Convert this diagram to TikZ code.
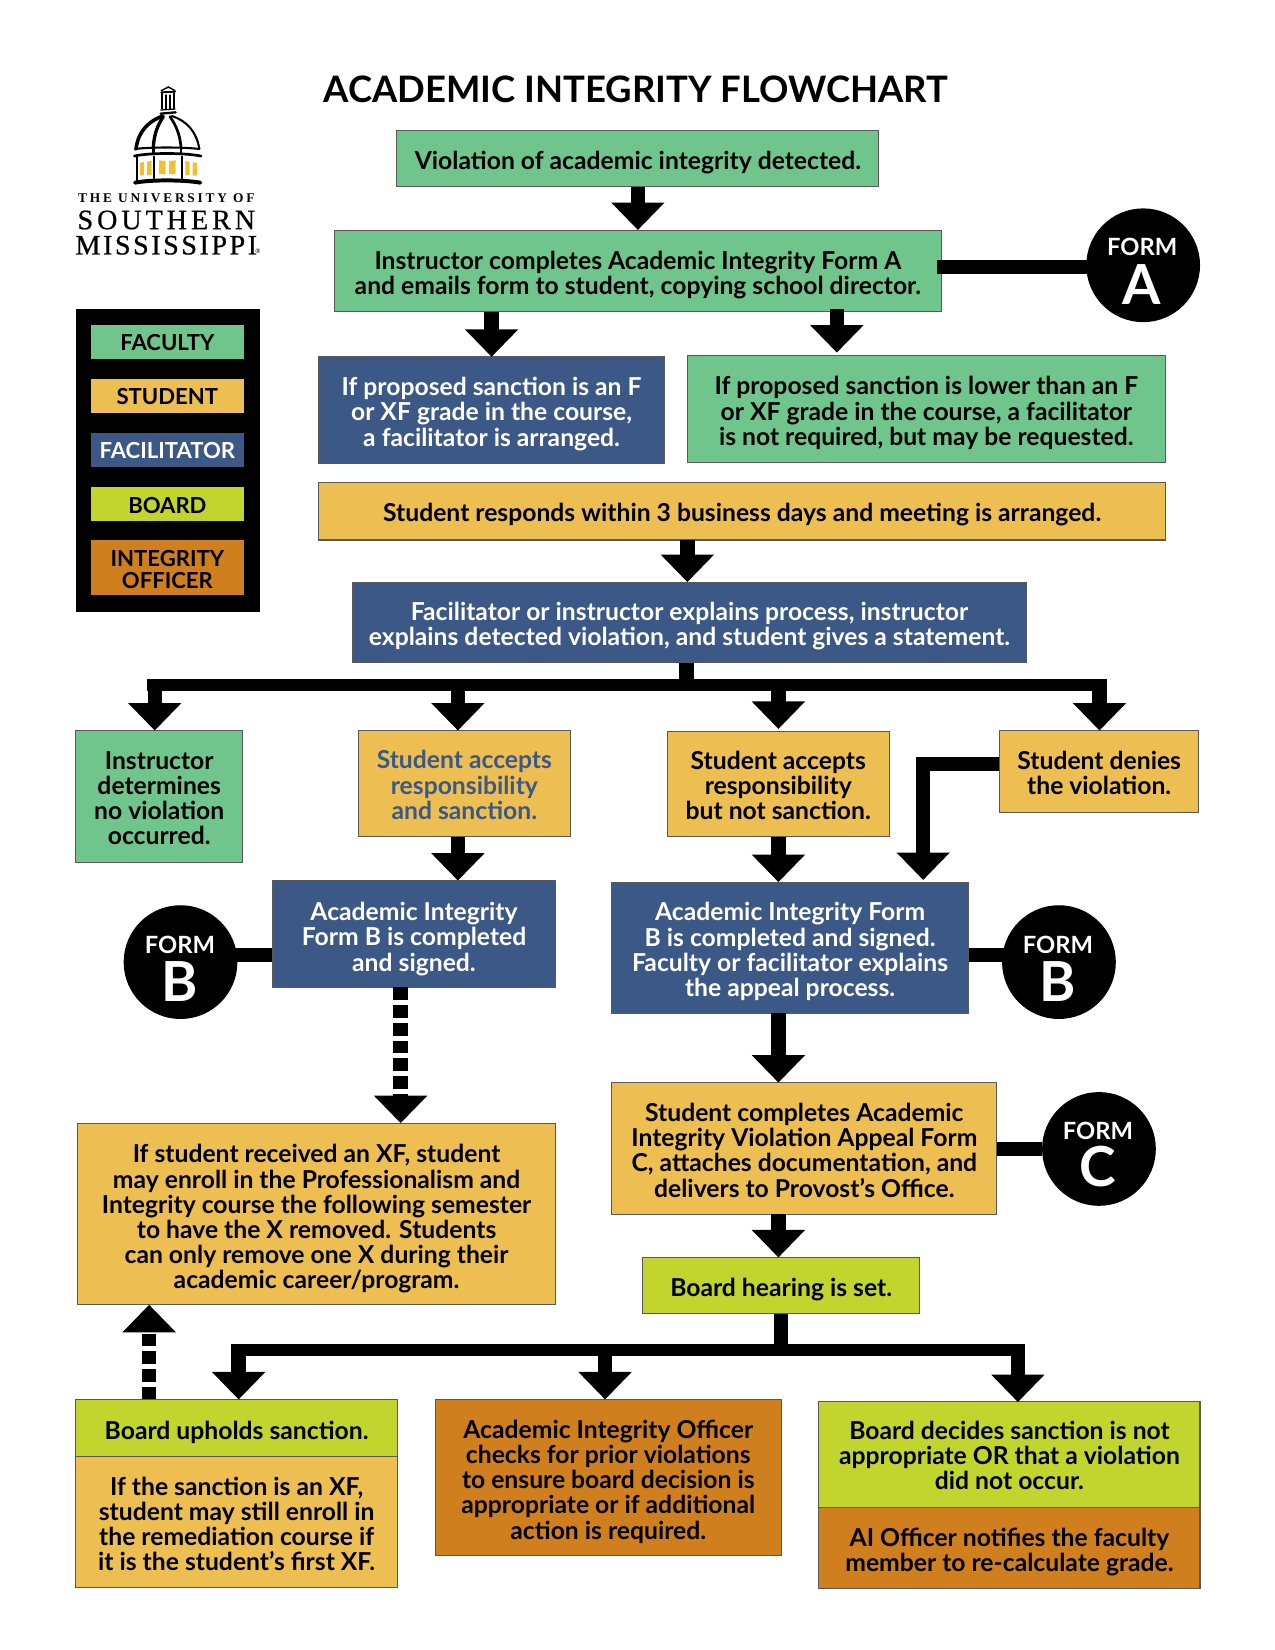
\documentclass[tikz,border=0pt]{standalone}
\usepackage{fontspec}
\usetikzlibrary{arrows.meta,shapes.geometric}
\setmainfont{Lato}[BoldFont={Lato Bold}]
\newfontfamily\lgA{Liberation Serif Bold}[LetterSpace=21]
\newfontfamily\lgB{Liberation Serif}[LetterSpace=14,FakeBold=0.6]
\newfontfamily\lgC{Liberation Serif}[LetterSpace=9,FakeBold=0.6]
\definecolor{cfac}{HTML}{70C58D}
\definecolor{cstu}{HTML}{EDBE52}
\definecolor{cbl}{HTML}{3B5886}
\definecolor{cbd}{HTML}{C2D52F}
\definecolor{cof}{HTML}{CF7F1D}
\definecolor{cwin}{HTML}{EFC032}
\newcommand{\bodyfont}{\fontsize{11.85bp}{12.1bp}\selectfont\bfseries}
\newcommand{\legfont}{\fontsize{10.6bp}{10.2bp}\selectfont\bfseries}
\newcommand{\tsv}{12.6bp}
\tikzset{
 boxn/.style={draw=black!65,line width=0.5bp,inner sep=0pt,align=center,font=\bodyfont},
 tup/.code={\renewcommand{\tsv}{#1}},
 cfacs/.style={fill=cfac,text=black},
 cstus/.style={fill=cstu,text=black},
 cbls/.style={fill=cbl,text=white},
 cbds/.style={fill=cbd,text=black},
 cofs/.style={fill=cof,text=black},
 legb/.style={draw=none,font=\legfont,tup=8.8bp},
 bar/.style={draw=black,line width=6.9bp},
 hbar/.style={draw=black,line width=5.7bp},
 arrowbar/.style={bar,-{Triangle[width=24.8bp,length=13.2bp]}},
 dashbar/.style={arrowbar,dash pattern=on 6.1bp off 2.4bp},
 formc/.style={circle,fill=black,minimum size=54.6bp,inner sep=0pt},
 formtop/.style={text=white,inner sep=0pt,font=\fontsize{11.4bp}{12bp}\selectfont\bfseries},
 formlet/.style={text=white,inner sep=0pt,font=\fontsize{26.5bp}{28bp}\selectfont\bfseries},
 logoline/.style={draw=black,line cap=round},
}
\newcommand{\bx}[7]{\node[boxn,#2,minimum width={(#5-(#3))*0.50526bp},minimum height={(#6-(#4))*0.50526bp}] (#1) at ({(#3+#5)/2},{(#4+#6)/2}) {\rule{0pt}{\tsv}#7};}
\begin{document}
\begin{tikzpicture}[x=0.50526bp,y=-0.50526bp]
\useasboundingbox (0,0) rectangle (1211.25,1567.5);
% title
\node[inner sep=0pt,font=\fontsize{17.5bp}{18bp}\selectfont\bfseries] (title) at (604,85) {ACADEMIC INTEGRITY FLOWCHART};
% logo
\begin{scope}[shift={(0,47.5)},scale=0.31666]
 \fill[cwin] (420,338)--(432,336)--(432,376)--(420,376)--cycle;
 \fill[cwin] (441,335)--(455,333)--(455,375)--(441,375)--cycle;
 \fill[cwin] (477,331)--(497,333)--(497,372)--(477,372)--cycle;
 \fill[cwin] (507,333)--(527,331)--(527,372)--(507,372)--cycle;
 \fill[cwin] (556,333)--(569,335)--(569,375)--(556,375)--cycle;
 \fill[cwin] (578,337)--(591,339)--(591,377)--(578,377)--cycle;
 \draw[logoline,line width=1.7bp] (408,297) .. controls (415,240) and (450,212) .. (488,198);
 \draw[logoline,line width=1bp] (515,198) .. controls (560,212) and (590,245) .. (598,297);
 \draw[logoline,line width=1.6bp] (460,292) .. controls (462,250) and (475,222) .. (490,200);
 \draw[logoline,line width=1.3bp] (543,292) .. controls (540,250) and (525,222) .. (510,200);
 \draw[logoline,line width=1bp] (405,297) .. controls (450,291) and (550,291) .. (598,297);
 \draw[logoline,line width=1.3bp] (403,318) .. controls (450,308) and (550,308) .. (603,318);
 \draw[logoline,line width=1.2bp] (460,295)--(460,312);
 \draw[logoline,line width=1.2bp] (543,295)--(543,312);
 \draw[logoline,line width=0.9bp] (411,320)--(411,393);
 \draw[logoline,line width=1bp] (462,320)--(462,385);
 \draw[logoline,line width=1bp] (545,320)--(545,385);
 \draw[logoline,line width=1.9bp] (405,398) .. controls (450,389) and (550,389) .. (601,398);
 \draw[logoline,line width=0.7bp] (484,122)--(505,111)--(525,122);
 \draw[logoline,line width=0.9bp] (484,127)--(525,125);
 \draw[logoline,line width=0.7bp] (486,128)--(486,176);
 \draw[logoline,line width=0.5bp] (498,135)--(498,176);
 \draw[logoline,line width=0.5bp] (510,135)--(510,176);
 \draw[logoline,line width=0.7bp] (522,128)--(522,176);
 \draw[logoline,line width=0.6bp] (482,180)--(525,177);
 \draw[logoline,line width=1.1bp] (482,191)--(527,187);
\end{scope}
\node[inner sep=0pt,font=\lgA\fontsize{6.4bp}{7bp}\selectfont] (lg1) at (158,188.7) {THE UNIVERSITY OF};
\node[inner sep=0pt,font=\lgB\fontsize{13.5bp}{14bp}\selectfont] (lg2) at (158,209) {SOUTHERN};
\node[inner sep=0pt,font=\lgC\fontsize{13.5bp}{14bp}\selectfont] (lg3) at (158,233) {MISSISSIPPI};
\node[inner sep=0pt,font=\fontsize{3bp}{3bp}\selectfont] (lg4) at (245,239) {®};
% legend
\node[fill=black,minimum width=88.4bp,minimum height=145.3bp,inner sep=0pt] (legend) at (159.5,437.3) {};
\bx{lfac}{cfacs,legb}{86}{308.7}{232}{340.8}{FACULTY}
\bx{lstu}{cstus,legb}{86}{360}{232}{392}{STUDENT}
\bx{lbl}{cbls,legb}{86}{411.4}{232}{443.3}{FACILITATOR}
\bx{lbd}{cbds,legb,tup=9.8bp}{86}{462.4}{232}{494.6}{BOARD}
\bx{lof}{cofs,legb,tup=9.8bp}{86}{513}{232}{565}{INTEGRITY\\OFFICER}
% boxes
\bx{viol}{cfacs}{377}{124}{835}{177}{Violation of academic integrity detected.}
\bx{fa}{cfacs}{318}{219}{894}{296}{Instructor completes Academic Integrity Form A\\and emails form to student, copying school director.}
\bx{pone}{cbls}{303}{339}{631}{440}{If proposed sanction is an F\\or XF grade in the course,\\a facilitator is arranged.}
\bx{ptwo}{cfacs}{653}{338}{1107}{439}{If proposed sanction is lower than an F\\or XF grade in the course, a facilitator\\is not required, but may be requested.}
\bx{resp}{cstus}{303}{458}{1107}{513}{Student responds within 3 business days and meeting is arranged.}
\bx{expl}{cbls}{335}{553}{975}{629}{Facilitator or instructor explains process, instructor\\explains detected violation, and student gives a statement.}
\bx{nov}{cfacs,tup=10.5bp}{72}{694}{230.5}{819}{Instructor\\determines\\no violation\\occurred.}
\bx{acc}{cstus,text=cbl,tup=10bp}{340.6}{694}{541.7}{795}{Student accepts\\responsibility\\and sanction.}
\bx{bns}{cstus,tup=10bp}{634}{694.5}{844.7}{795}{Student accepts\\responsibility\\but not sanction.}
\bx{den}{cstus,tup=10bp}{949.5}{694}{1139}{771.5}{Student denies\\the violation.}
\bx{bone}{cbls,tup=13.6bp}{258.8}{836.6}{527.8}{938}{Academic Integrity\\Form B is completed\\and signed.}
\bx{btwo}{cbls}{581.2}{838}{920}{962.6}{Academic Integrity Form\\B is completed and signed.\\Faculty or facilitator explains\\the appeal process.}
\bx{xf}{cstus,tup=13.6bp}{74}{1067}{527.5}{1239.5}{If student received an XF, student\\may enroll in the Professionalism and\\Integrity course the following semester\\to have the X removed. Students\\can only remove one X during their\\academic career/program.}
\bx{app}{cstus,tup=10.5bp}{581.2}{1028.5}{947}{1153.5}{Student completes Academic\\Integrity Violation Appeal Form\\C, attaches documentation, and\\delivers to Provost’s Office.}
\bx{hear}{cbds}{610.5}{1194.6}{873.7}{1248}{Board hearing is set.}
\bx{uph}{cbds}{71.6}{1329.5}{378}{1384}{Board upholds sanction.}
\bx{rem}{cstus,tup=10.5bp}{71.6}{1384}{378}{1508}{If the sanction is an XF,\\student may still enroll in\\the remediation course if\\it is the student’s first XF.}
\bx{off}{cofs}{413.7}{1329.5}{742}{1478}{Academic Integrity Officer\\checks for prior violations\\to ensure board decision is\\appropriate or if additional\\action is required.}
\bx{dec}{cbds,tup=9.6bp}{778}{1331}{1140}{1432.5}{Board decides sanction is not\\appropriate OR that a violation\\did not occur.}
\bx{ain}{cofs}{778}{1432.5}{1140}{1509}{AI Officer notifies the faculty\\member to re-calculate grade.}
% named junction points
\coordinate (jfa) at (890,253.5);
\coordinate (jt) at (652,650.5);
\coordinate (jtl) at (140,650.5);
\coordinate (jtr) at (1051,650.5);
\coordinate (ja1) at (147,645);
\coordinate (ja2) at (435,645);
\coordinate (ja3) at (739.5,645);
\coordinate (ja4) at (1044.5,645);
\coordinate (jd1) at (949.5,726);
\coordinate (jd2) at (877,726);
\coordinate (jb) at (742,1282.5);
\coordinate (jbl) at (219.6,1282.5);
\coordinate (jbr) at (974,1282.5);
\coordinate (jb1) at (226.7,1277);
\coordinate (jb2) at (574.8,1277);
\coordinate (jb3) at (967,1277);
\coordinate (tp1) at (877,836);
\coordinate (tp2) at (795,335);
\coordinate (sp2) at (795,294);
\coordinate (tp3) at (147,694);
\coordinate (tp4) at (435,694);
\coordinate (tp5) at (739.5,692.5);
\coordinate (tp6) at (1044.5,694);
\coordinate (tp7) at (226.7,1329.5);
\coordinate (tp8) at (574.8,1329.5);
\coordinate (tp9) at (967,1332);
% connectors
\draw[arrowbar] (viol.south) -- (viol.south |- fa.north);
\draw[arrowbar] (467,296) -- (467,339);
\draw[arrowbar] (sp2) -- (tp2);
\draw[arrowbar] (653,513) -- (653,553);
\draw[bar] (expl.south -| jt) -- (jt);
\draw[hbar] (jtl) -- (jtr);
\draw[arrowbar] (ja1) -- (tp3);
\draw[arrowbar] (ja2) -- (tp4);
\draw[arrowbar] (ja3) -- (tp5);
\draw[arrowbar] (ja4) -- (tp6);
\draw[arrowbar] (jd1) -- (jd2) -- (tp1);
\draw[arrowbar] (435,795) -- (435,836.6);
\draw[arrowbar] (739.5,795) -- (739.5,838);
\draw[arrowbar] (739.5,962.6) -- (739.5,1028.5);
\draw[arrowbar] (739.5,1153.5) -- (739.5,1194.6);
\draw[dashbar] (380.6,938) -- (380.6,1067);
\draw[dashbar] (141.7,1329.5) -- (141.7,1239.5);
\draw[bar] (hear.south -| jb) -- (jb);
\draw[hbar] (jbl) -- (jbr);
\draw[arrowbar] (jb1) -- (tp7);
\draw[arrowbar] (jb2) -- (tp8);
\draw[arrowbar] (jb3) -- (tp9);
% forms
\node[formc] (fca) at (1086,252) {};
\node[formc] (fcb) at (171.5,914) {};
\node[formc] (fcd) at (1006,914) {};
\node[formc] (fce) at (1044,1091.5) {};
\draw[bar] (jfa) -- (jfa -| fca);
\draw[bar] (bone.west |- 0,907) -- (fcb.center |- 0,907);
\draw[bar] (btwo.east |- 0,907) -- (fcd.center |- 0,907);
\draw[bar] (app.east |- fce) -- (fce);
\node[formtop] (fat) at (1085,235) {FORM};
\node[formlet] (fal) at (1085,270) {A};
\node[formtop] (fbt) at (171,898) {FORM};
\node[formlet] (fbl) at (171,932) {B};
\node[formtop] (fdt) at (1005,898) {FORM};
\node[formlet] (fdl) at (1005,932) {B};
\node[formtop] (fet) at (1043,1074.5) {FORM};
\node[formlet] (fel) at (1043,1108) {C};
\end{tikzpicture}
\end{document}
